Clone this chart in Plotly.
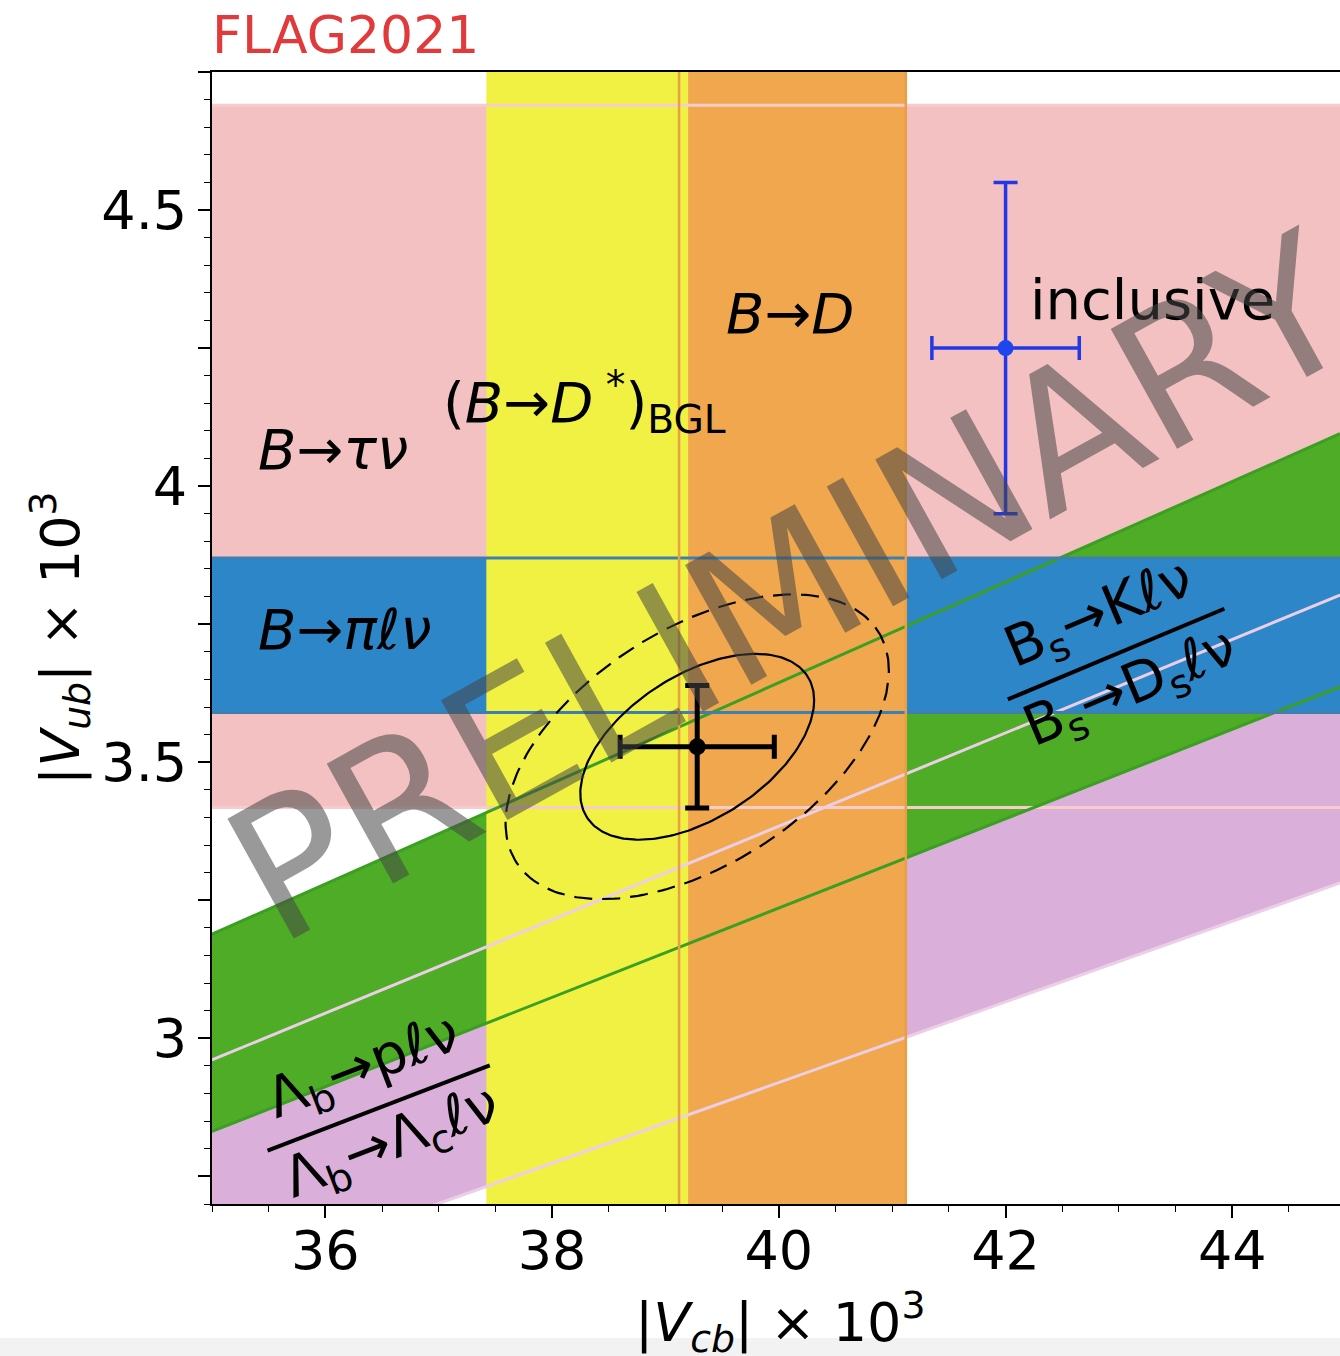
import numpy as np
import plotly.graph_objects as go

# ---------------- data ----------------
# axis ranges (|Vcb| x 10^3, |Vub| x 10^3)
X_RANGE = [35.0, 44.95]
Y_RANGE = [2.70, 4.75]

# horizontal bands: |Vub| x 10^3 (center, half width)
hb_names = ["B→τν", "B→πℓν"]
hb_center = [4.054, 3.730]
hb_half = [0.636, 0.140]

# vertical bands: |Vcb| x 10^3 (center, half width)
vb_names = ["(B→D*)BGL", "B→D"]
vb_center = [38.31, 40.12]
vb_half = [0.89, 1.00]

# ratio bands |Vub|/|Vcb| (center, half width)
rb_names = ["Λb→pℓν / Λb→Λcℓν", "Bs→Kℓν / Bs→Dsℓν"]
rb_center = [0.0788, 0.0860]
rb_half = [0.0058, 0.0051]

# global fit point (Vcb, Vub, sigmas, correlation)
fit_vcb, fit_vub = 39.28, 3.528
fit_svcb, fit_svub, fit_rho = 0.68, 0.111, 0.50
ellipse_dchi2 = [2.30, 6.18]

# inclusive point
inc_vcb, inc_vub = 42.00, 4.25
inc_svcb, inc_svub = 0.65, 0.30

# ---------------- styles ----------------
PINK, PINK_L = "#f3c1c1", "#f6cccc"
BLUE, BLUE_L = "#2d86c8", "#3d80b0"
YELLOW = "#f0f142"
ORANGE, ORANGE_L = "#f0a74d", "#e99f45"
GREEN, GREEN_L = "#4eac26", "#3a9f22"
PURPLE, PURPLE_L = "#dab0da", "#eccfe6"
FONT = "DejaVu Sans"

W, H = 1340, 1356
ML, MR, MT, MB = 212, 0, 72, 152
PW, PH = W - ML - MR, H - MT - MB
px_x = PW / (X_RANGE[1] - X_RANGE[0])
px_y = PH / (Y_RANGE[1] - Y_RANGE[0])

fig = go.Figure()

xs = np.array(X_RANGE)


def poly(xp, yp, color):
    fig.add_trace(go.Scatter(x=xp, y=yp, mode="lines", fill="toself", fillcolor=color,
                             line=dict(width=0, color=color), hoverinfo="skip"))


def line(xp, yp, color, width=2.5, dash="solid"):
    fig.add_trace(go.Scatter(x=xp, y=yp, mode="lines", line=dict(color=color, width=width, dash=dash),
                             hoverinfo="skip"))


# fills: pink, purple, green, blue, orange, yellow
c, h = hb_center[0], hb_half[0]
poly([xs[0], xs[1], xs[1], xs[0], xs[0]], [c - h, c - h, c + h, c + h, c - h], PINK)
for i, col in [(0, PURPLE), (1, GREEN)]:
    lo, hi = rb_center[i] - rb_half[i], rb_center[i] + rb_half[i]
    poly([xs[0], xs[1], xs[1], xs[0], xs[0]],
         [lo * xs[0], lo * xs[1], hi * xs[1], hi * xs[0], lo * xs[0]], col)
c, h = hb_center[1], hb_half[1]
poly([xs[0], xs[1], xs[1], xs[0], xs[0]], [c - h, c - h, c + h, c + h, c - h], BLUE)
for i, col in [(1, ORANGE), (0, YELLOW)]:
    c, h = vb_center[i], vb_half[i]
    poly([c - h, c + h, c + h, c - h, c - h], [Y_RANGE[0], Y_RANGE[0], Y_RANGE[1], Y_RANGE[1], Y_RANGE[0]], col)

# edge lines
for s in (-1, 1):
    v = hb_center[0] + s * hb_half[0]
    line(xs, [v, v], PINK_L, width=3)
for i, col in [(0, PURPLE_L), (1, GREEN_L)]:
    for s in (-1, 1):
        r = rb_center[i] + s * rb_half[i]
        line(xs, r * xs, col, width=3)
for s in (-1, 1):
    v = hb_center[1] + s * hb_half[1]
    line(xs, [v, v], BLUE_L, width=3)
for s in (-1, 1):
    v = vb_center[1] + s * vb_half[1]
    line([v, v], Y_RANGE, ORANGE_L, width=2.5)

# ellipses
cov = np.array([[fit_svcb ** 2, fit_rho * fit_svcb * fit_svub],
                [fit_rho * fit_svcb * fit_svub, fit_svub ** 2]])
Lc = np.linalg.cholesky(cov)
t = np.linspace(0, 2 * np.pi, 241)
circ = np.vstack([np.cos(t), np.sin(t)])
for d2, dash in zip(ellipse_dchi2, ["solid", "18px,10px"]):
    pts = np.sqrt(d2) * (Lc @ circ)
    line(fit_vcb + pts[0], fit_vub + pts[1], "black", width=2.2, dash=dash)

# fit point
fig.add_trace(go.Scatter(x=[fit_vcb], y=[fit_vub], mode="markers",
                         marker=dict(color="black", size=17),
                         error_x=dict(type="data", array=[fit_svcb], color="black", thickness=5, width=12),
                         error_y=dict(type="data", array=[fit_svub], color="black", thickness=5, width=12),
                         hoverinfo="skip"))
# inclusive point
fig.add_trace(go.Scatter(x=[inc_vcb], y=[inc_vub], mode="markers",
                         marker=dict(color="#1f45ee", size=16),
                         error_x=dict(type="data", array=[inc_svcb], color="#2238e6", thickness=3.5, width=12),
                         error_y=dict(type="data", array=[inc_svub], color="#2238e6", thickness=3.5, width=12),
                         hoverinfo="skip"))

# fraction bars for ratio labels
frac_bar_x = {1: (42.02, 43.93), 0: (35.49, 37.45)}
for i, (x0, x1) in frac_bar_x.items():
    xx = np.array([x0, x1])
    line(xx, rb_center[i] * xx, "black", width=4)

ann = []
LF = 56


def text(x, y, s, size=LF, **kw):
    d = dict(x=x, y=y, xref="x", yref="y", text=s, showarrow=False,
             font=dict(family=FONT, size=size, color=kw.pop("color", "black")))
    d.update(kw)
    ann.append(d)


text(36.07, 4.066, "<i>B</i>→<i>τν</i>")
text(vb_center[0] - 0.02, 4.152, "(<i>B</i>→<i>D</i><sup> *</sup>)<sub>BGL</sub>")
text(vb_center[1] - 0.02, 4.312, "<i>B</i>→<i>D</i>")
text(42.20, 4.338, "inclusive", xanchor="left")
text(36.17, hb_center[1] + 0.011, "<i>B</i>→<i>πℓν</i>")

frac_text = {1: ("B<sub>s</sub>→Kℓν", "B<sub>s</sub>→D<sub>s</sub>ℓν"),
             0: ("Λ<sub>b</sub>→pℓν", "Λ<sub>b</sub>→Λ<sub>c</sub>ℓν")}
for i, (num, den) in frac_text.items():
    x0, x1 = frac_bar_x[i]
    xm = 0.5 * (x0 + x1)
    ym = rb_center[i] * xm
    th = np.arctan(rb_center[i] * px_y / px_x)
    deg = np.degrees(th)
    text(xm, ym, num, textangle=-deg, xshift=-42 * np.sin(th), yshift=42 * np.cos(th))
    text(xm, ym, den, textangle=-deg, xshift=38 * np.sin(th), yshift=-38 * np.cos(th))

# watermark
text(40.10, 3.815, "PRELIMINARY", size=188, textangle=-29, color="rgba(70,70,70,0.55)")


def pxx(p):
    return (p - ML) / PW


def pxy(p):
    return (MT + PH - p) / PH


ann.append(dict(x=pxx(210), y=pxy(35), xref="paper", yref="paper", xanchor="left", yanchor="middle",
                text="FLAG2021", showarrow=False, font=dict(family=FONT, size=52, color="#e03a3a")))
ann.append(dict(x=pxx(780), y=pxy(1322), xref="paper", yref="paper", xanchor="center", yanchor="middle",
                text="|<i>V</i><sub><i>cb</i></sub>| × 10<sup>3</sup>", showarrow=False,
                font=dict(family=FONT, size=54, color="black")))
ann.append(dict(x=pxx(60), y=pxy(638), xref="paper", yref="paper", xanchor="center", yanchor="middle",
                text="|<i>V</i><sub><i>ub</i></sub>| × 10<sup>3</sup>", showarrow=False, textangle=-90,
                font=dict(family=FONT, size=54, color="black")))

yt = [2.75, 3.0, 3.25, 3.5, 3.75, 4.0, 4.25, 4.5, 4.75]
ytxt = ["", "3", "", "3.5", "", "4", "", "4.5", ""]

fig.update_layout(
    width=W, height=H, margin=dict(l=ML, r=MR, t=MT, b=MB, autoexpand=False),
    plot_bgcolor="white", paper_bgcolor="white", showlegend=False,
    font=dict(family=FONT, size=54, color="black"),
    annotations=ann,
    shapes=[dict(type="rect", xref="paper", yref="paper", x0=pxx(0), x1=1.0, y0=pxy(1356), y1=pxy(1338),
                 fillcolor="#f2f2f2", line=dict(width=0), layer="below")],
)
fig.update_xaxes(range=X_RANGE, tickvals=[36, 38, 40, 42, 44], ticks="outside", ticklen=12, tickwidth=1.5,
                 tickcolor="black", showline=True, linecolor="black", linewidth=2, mirror=True,
                 showgrid=False, zeroline=False, tickfont=dict(size=54), ticklabelstandoff=-14,
                 minor=dict(dtick=0.5, tick0=35, ticks="outside", ticklen=6, tickwidth=1.2, tickcolor="black",
                            showgrid=False))
fig.update_yaxes(range=Y_RANGE, tickvals=yt, ticktext=ytxt, ticks="outside", ticklen=12, tickwidth=1.5,
                 tickcolor="black", showline=True, linecolor="black", linewidth=2, mirror=False,
                 showgrid=False, zeroline=False, tickfont=dict(size=54),
                 minor=dict(dtick=0.05, tick0=2.7, ticks="outside", ticklen=6, tickwidth=1.2, tickcolor="black",
                            showgrid=False))

fig.write_html("out.html")
